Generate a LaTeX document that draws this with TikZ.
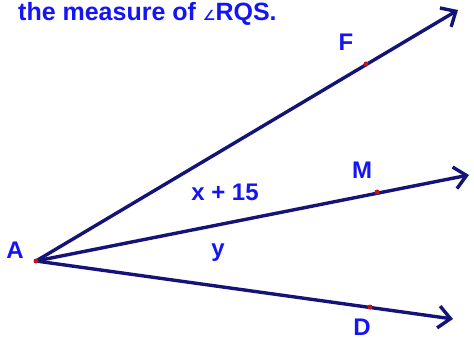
\documentclass[tikz,border=0pt]{standalone}
\usepackage{fontspec}
\setmainfont{Liberation Sans}
\newfontfamily\symfont{DejaVu Sans}
\usetikzlibrary{arrows.meta}
\definecolor{rayc}{RGB}{20,20,120}
\definecolor{labc}{RGB}{20,20,245}
\definecolor{ptc}{RGB}{200,20,20}
\tikzset{
  ray/.style={draw=rayc, line width=3.4pt, -{Straight Barb[length=12pt,width=22pt,line width=3.4pt]}},
  lab/.style={text=labc, font=\bfseries\fontsize{24}{26}\selectfont, inner sep=0pt},
  pt/.style={circle, fill=ptc, inner sep=0pt, minimum size=5pt},
}
\begin{document}
\begin{tikzpicture}[x=1pt,y=-1pt]
\useasboundingbox (0,0) rectangle (474,339);
\node[lab, anchor=west, font=\bfseries\fontsize{25}{27}\selectfont] (title) at (18,14) {the measure of {\symfont\fontsize{14}{15}\selectfont ∠}RQS.};
\coordinate (A) at (36,261);
\coordinate (Ft) at (458,10);
\coordinate (Mt) at (469,175);
\coordinate (Dt) at (453,319);
\draw[ray] (A) -- (Ft);
\draw[ray] (A) -- (Mt);
\draw[ray] (A) -- (Dt);
\node[pt] (Fp) at (366,64) {};
\node[pt] (Mp) at (377,192) {};
\node[pt] (Dp) at (370,307) {};
\node[pt] (Ap) at (A) {};
\node[lab] (la) at (15,250) {A};
\node[lab] (lf) at (346,42) {F};
\node[lab] (lm) at (362,170) {M};
\node[lab] (ld) at (362,327) {D};
\node[lab] (lx) at (225,192) {x + 15};
\node[lab] (ly) at (218,253) {y};
\end{tikzpicture}
\end{document}
